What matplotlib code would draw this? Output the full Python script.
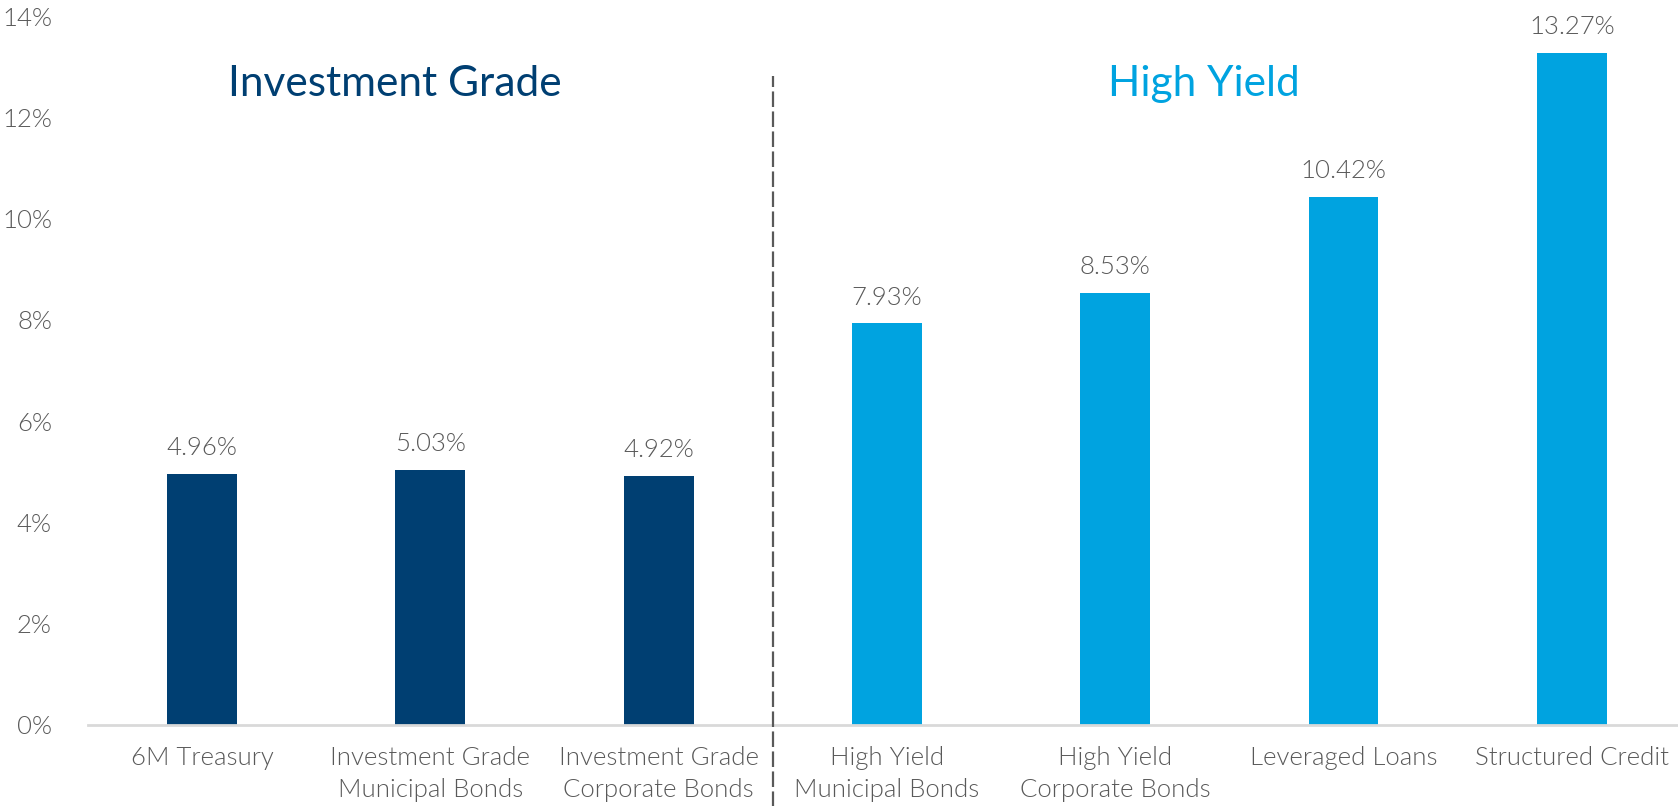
import matplotlib.pyplot as plt
from matplotlib.ticker import FuncFormatter

categories = [
    "6M Treasury",
    "Investment Grade\nMunicipal Bonds",
    "Investment Grade\nCorporate Bonds",
    "High Yield\nMunicipal Bonds",
    "High Yield\nCorporate Bonds",
    "Leveraged Loans",
    "Structured Credit",
]
yields = [4.96, 5.03, 4.92, 7.93, 8.53, 10.42, 13.27]
groups = ["ig", "ig", "ig", "hy", "hy", "hy", "hy"]
yticks = [0, 2, 4, 6, 8, 10, 12, 14]

NAVY = "#003f72"
BLUE = "#00a3e0"
GRAY = "#595959"

plt.rcParams['font.family'] = ['Lato', 'DejaVu Sans']
LIGHT = 300  # Lato-Light.ttf

fig = plt.figure(figsize=(16.78, 8.06), dpi=100)
ax = fig.add_axes([88 / 1678, 81 / 806, 1 - 88 / 1678, 709 / 806])

colors = [NAVY if g == "ig" else BLUE for g in groups]
x = list(range(len(categories)))
bars = ax.bar(x, yields, width=0.306, color=colors, zorder=2)

for b, v in zip(bars, yields):
    ax.annotate(f"{v:.2f}%", (b.get_x() + b.get_width() / 2, v),
                xytext=(0, 10), textcoords="offset points",
                ha="center", va="bottom", fontsize=18.5, color=GRAY,
                fontweight=LIGHT)

ax.set_xlim(-0.5, 6.465)
ax.set_ylim(0, 14)
ax.set_yticks(yticks)
ax.yaxis.set_major_formatter(FuncFormatter(lambda v, p: f"{v:.0f}%"))
ax.set_xticks(x)
ax.set_xticklabels(categories, fontsize=18.5, color=GRAY, fontweight=LIGHT,
                   linespacing=1.45)
for lab in ax.get_yticklabels():
    lab.set_fontsize(18.5)
    lab.set_color(GRAY)
    lab.set_fontweight(LIGHT)
ax.tick_params(axis="y", length=0, pad=26)
ax.tick_params(axis="x", length=0, pad=15)

for s in ["top", "right", "left"]:
    ax.spines[s].set_visible(False)
ax.spines["bottom"].set_color("#d9d9d9")
ax.spines["bottom"].set_linewidth(2)

# divider between the two groups
ax.plot([2.5, 2.5], [-1.62, 12.82], color=GRAY, lw=1.6,
        linestyle=(0, (7, 2)), clip_on=False, zorder=3)

ax.text(0.845, 12.66, "Investment Grade", ha="center", va="center",
        fontsize=30.5, color=NAVY)
ax.text(4.39, 12.66, "High Yield", ha="center", va="center",
        fontsize=30.5, color=BLUE)

fig.savefig("out.png", dpi=100)
